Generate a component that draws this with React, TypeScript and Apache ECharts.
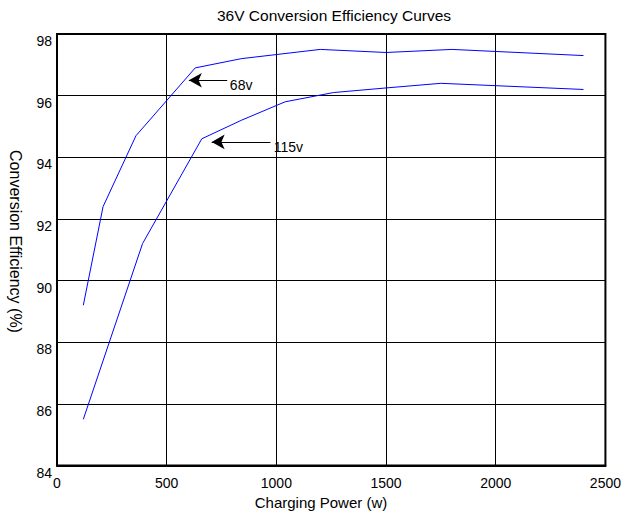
import React, { useEffect, useRef } from "react";
import * as echarts from "echarts";

const xTicks = [0, 500, 1000, 1500, 2000, 2500];
const yTicks = [84, 86, 88, 90, 92, 94, 96, 98];

const powerA = [120, 210, 360, 630, 840, 1200, 1500, 1800, 2400];
const effA = [89.2, 92.4, 94.7, 96.9, 97.2, 97.5, 97.4, 97.5, 97.3];

const powerB = [120, 390, 660, 840, 1040, 1260, 1500, 1750, 2400];
const effB = [85.5, 91.2, 94.6, 95.2, 95.8, 96.1, 96.25, 96.4, 96.2];

const labelA = "68v";
const labelB = "115v";
const arrowA = { from: [776, 96.5], to: [601, 96.5], text: [788, 96.35] };
const arrowB = { from: [973, 94.5], to: [705, 94.5], text: [988, 94.33] };

const FONT = "Liberation Sans, Arial, sans-serif";

export default function App() {
  const ref = useRef<HTMLDivElement>(null);
  useEffect(() => {
    if (!ref.current) return;
    const chart = echarts.init(ref.current, undefined, { renderer: "svg" });
    const mkSeries = (xs: number[], ys: number[], arrow: any, label: string) => ({
      type: "line",
      data: xs.map((x, i) => [x, ys[i]]),
      showSymbol: false,
      symbol: "none",
      lineStyle: { color: "#0000ff", width: 1 },
      itemStyle: { color: "#0000ff" },
      markLine: {
        silent: true,
        symbol: ["none", "arrow"],
        symbolSize: [11, 13],
        label: { show: false },
        lineStyle: { color: "#000", width: 1, type: "solid" },
        data: [[{ coord: arrow.from }, { coord: arrow.to }]],
      },
      markPoint: {
        silent: true,
        symbol: "circle",
        symbolSize: 0,
        label: {
          show: true,
          position: [0, 0],
          align: "left",
          verticalAlign: "middle",
          formatter: label,
          color: "#000",
          fontSize: 14,
          fontFamily: FONT,
        },
        data: [{ coord: arrow.text }],
      },
    });
    chart.setOption({
      animation: false,
      backgroundColor: "#fff",
      title: {
        text: "36V Conversion Efficiency Curves",
        left: 329,
        top: 2,
        textAlign: "center",
        textStyle: { fontSize: 15.5, fontWeight: "normal", color: "#000", fontFamily: FONT },
      },
      grid: {
        left: 57,
        right: 18,
        top: 34,
        bottom: 46.5,
        show: true,
        borderColor: "#000",
        borderWidth: 2,
        containLabel: false,
      },
      xAxis: {
        type: "value",
        min: xTicks[0],
        max: xTicks[xTicks.length - 1],
        interval: 500,
        axisLine: { show: true, lineStyle: { color: "#000", width: 2 } },
        axisTick: { show: false },
        axisLabel: {
          color: "#000",
          fontSize: 14,
          fontFamily: FONT,
          margin: 10,
          formatter: (v: number) => String(v),
        },
        splitLine: { show: true, lineStyle: { color: "#000", width: 1 } },
      },
      yAxis: {
        type: "value",
        min: yTicks[0],
        max: yTicks[yTicks.length - 1],
        interval: 2,
        axisLine: { show: true, lineStyle: { color: "#000", width: 2 } },
        axisTick: { show: false },
        axisLabel: {
          color: "#000",
          fontSize: 14,
          fontFamily: FONT,
          margin: 5,
          verticalAlign: "top",
          formatter: (v: number) => String(v),
        },
        splitLine: { show: true, lineStyle: { color: "#000", width: 1 } },
      },
      graphic: [
        {
          type: "text",
          x: 321,
          y: 502,
          style: {
            text: "Charging Power (w)",
            fill: "#000",
            font: `15px ${FONT}`,
            align: "center",
            verticalAlign: "middle",
          },
        },
        {
          type: "text",
          x: 15,
          y: 241.5,
          rotation: -Math.PI / 2,
          style: {
            text: "Conversion Efficiency (%)",
            fill: "#000",
            font: `16px ${FONT}`,
            align: "center",
            verticalAlign: "middle",
          },
        },
      ],
      series: [
        mkSeries(powerA, effA, arrowA, labelA),
        mkSeries(powerB, effB, arrowB, labelB),
      ],
    });
    return () => chart.dispose();
  }, []);
  return <div ref={ref} style={{ width: 624, height: 512, position: "fixed", left: 0, top: 0 }} />;
}
